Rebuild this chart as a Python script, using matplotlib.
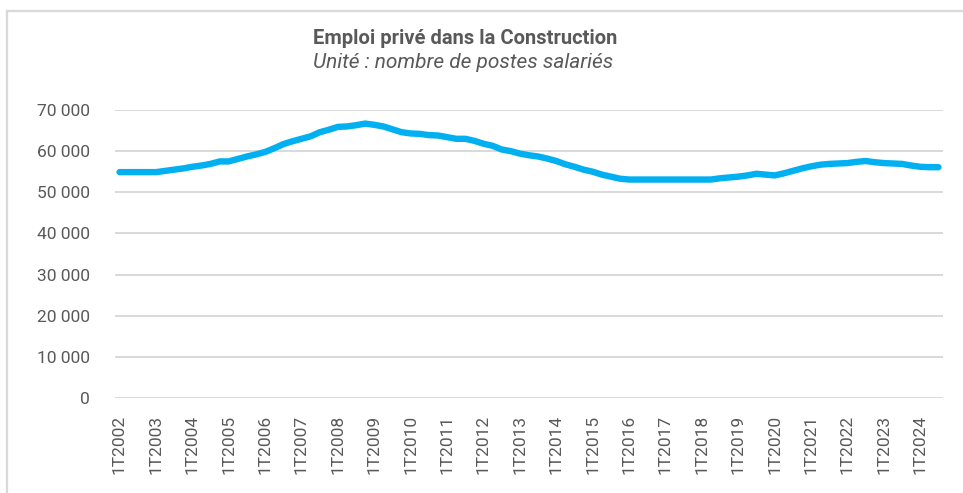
import matplotlib
matplotlib.use("agg")
import matplotlib.pyplot as plt
from matplotlib.lines import Line2D
from matplotlib.ticker import FuncFormatter

plt.rcParams["font.family"] = ["Roboto", "DejaVu Sans"]

# quarterly series 1T2002 .. 3T2024
years = list(range(2002, 2025))
quarters = [f"{q}T{y}" for y in years for q in range(1, 5)][:91]

emploi = [
    54900, 54900, 54900, 54900,   # 2002
    54900, 55200, 55500, 55800,   # 2003
    56200, 56500, 56900, 57500,   # 2004
    57500, 58100, 58700, 59200,   # 2005
    59800, 60700, 61700, 62400,   # 2006
    63000, 63600, 64600, 65200,   # 2007
    65900, 66000, 66300, 66700,   # 2008
    66400, 66000, 65300, 64600,   # 2009
    64300, 64200, 63900, 63800,   # 2010
    63400, 63000, 63000, 62500,   # 2011
    61800, 61300, 60400, 60000,   # 2012
    59400, 59000, 58700, 58200,   # 2013
    57600, 56800, 56200, 55500,   # 2014
    55000, 54300, 53800, 53300,   # 2015
    53100, 53100, 53100, 53100,   # 2016
    53100, 53100, 53100, 53100,   # 2017
    53100, 53100, 53400, 53600,   # 2018
    53800, 54100, 54500, 54300,   # 2019
    54100, 54600, 55200, 55800,   # 2020
    56300, 56700, 56900, 57000,   # 2021
    57100, 57400, 57600, 57300,   # 2022
    57100, 57000, 56900, 56500,   # 2023
    56200, 56100, 56100,          # 2024
]

yticks = [0, 10000, 20000, 30000, 40000, 50000, 60000, 70000]

GREY = "#595959"
GRID = "#d9d9d9"
BLUE = "#00B0F0"

fig = plt.figure(figsize=(9.63, 4.93), dpi=100)

# outer frame (cropped screenshot: only top and left edges visible)
fig.add_artist(Line2D([7 / 963, 1], [1 - 11 / 493] * 2, color=GRID, lw=1.6,
                      transform=fig.transFigure))
fig.add_artist(Line2D([7 / 963] * 2, [0, 1 - 11 / 493], color=GRID, lw=1.6,
                      transform=fig.transFigure))

ax = fig.add_axes([115 / 963, 95 / 493, 828 / 963, 288 / 493])
x = list(range(len(emploi)))
ax.plot(x, emploi, color=BLUE, lw=4.6, solid_capstyle="round",
        solid_joinstyle="round", zorder=3)

ax.set_xlim(-0.5, len(emploi) - 0.5)
ax.set_ylim(0, 70000)
ax.set_yticks(yticks)
ax.yaxis.set_major_formatter(FuncFormatter(lambda v, p: f"{int(v):,}".replace(",", " ")))
ax.grid(axis="y", color=GRID, lw=1.4)
ax.set_axisbelow(True)

tick_pos = x[::4]
ax.set_xticks(tick_pos)
ax.set_xticklabels([quarters[i] for i in tick_pos], rotation=90)

for s in ax.spines.values():
    s.set_visible(False)
ax.tick_params(axis="both", length=0, colors=GREY, labelsize=12.5)
ax.tick_params(axis="y", pad=18)
ax.tick_params(axis="x", pad=12)

# title block, left-aligned as in the source chart
fig.text(313 / 963, 1 - 38 / 493, "Emploi privé dans la Construction",
         ha="left", va="center", fontsize=14.5, fontweight="bold", color=GREY)
fig.text(313 / 963, 1 - 62 / 493, "Unité : nombre de postes salariés",
         ha="left", va="center", fontsize=15, style="italic", color=GREY)

fig.savefig("out.png", dpi=100)
